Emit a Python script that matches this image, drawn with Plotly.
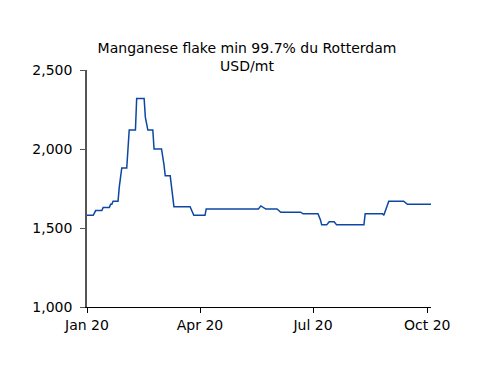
import plotly.graph_objects as go

dates = [
    "2020-01-01", "2020-01-06", "2020-01-08", "2020-01-13", "2020-01-14", "2020-01-19",
    "2020-01-20", "2020-01-21", "2020-01-22", "2020-01-26", "2020-01-27", "2020-01-29",
    "2020-02-02", "2020-02-03", "2020-02-04", "2020-02-09", "2020-02-10", "2020-02-16",
    "2020-02-17", "2020-02-19", "2020-02-23", "2020-02-24", "2020-03-01", "2020-03-03",
    "2020-03-04", "2020-03-08", "2020-03-10", "2020-03-11", "2020-03-24", "2020-03-27",
    "2020-04-05", "2020-04-06", "2020-05-18", "2020-05-20", "2020-05-24", "2020-06-02",
    "2020-06-05", "2020-06-21", "2020-06-23", "2020-07-05", "2020-07-07", "2020-07-08",
    "2020-07-12", "2020-07-14", "2020-07-18", "2020-07-20", "2020-08-11", "2020-08-12",
    "2020-08-26", "2020-08-27", "2020-08-31", "2020-09-12", "2020-09-15", "2020-10-04",
]
prices = [
    1580, 1580, 1610, 1610, 1630, 1630,
    1650, 1650, 1670, 1670, 1760, 1880,
    1880, 2050, 2120, 2120, 2320, 2320,
    2200, 2120, 2120, 2000, 2000, 1900,
    1830, 1830, 1720, 1635, 1635, 1580,
    1580, 1620, 1620, 1640, 1620, 1620,
    1600, 1600, 1590, 1590, 1550, 1520,
    1520, 1540, 1540, 1520, 1520, 1590,
    1590, 1580, 1670, 1670, 1650, 1650,
]

tick_dates = ["2020-01-01", "2020-04-01", "2020-07-01", "2020-10-01"]
tick_labels = ["Jan 20", "Apr 20", "Jul 20", "Oct 20"]
y_ticks = [1000, 1500, 2000, 2500]

font = "DejaVu Sans"

fig = go.Figure()
fig.add_trace(go.Scatter(
    x=dates, y=prices, mode="lines",
    line=dict(color="#0c47a6", width=1.5),
    showlegend=False,
))

fig.update_layout(
    width=500, height=386,
    margin=dict(l=87, r=69, t=70, b=79),
    paper_bgcolor="white", plot_bgcolor="white",
    font=dict(family=font, size=14, color="black"),
    title=dict(
        text="Manganese flake min 99.7% du Rotterdam<br>USD/mt",
        x=247 / 500, xanchor="center", xref="container",
        y=(386 - 53) / 386, yanchor="middle", yref="container",
        font=dict(family=font, size=14, color="black"),
    ),
    xaxis=dict(
        range=[dates[0], dates[-1]],
        tickvals=tick_dates, ticktext=tick_labels,
        showgrid=False, zeroline=False,
        showline=True, linecolor="black", linewidth=1,
        ticks="outside", ticklen=5, tickcolor="black",
        tickfont=dict(family=font, size=14, color="black"),
    ),
    yaxis=dict(
        range=[1000, 2500],
        tickvals=y_ticks, tickformat=",",
        showgrid=False, zeroline=False,
        showline=True, linecolor="#555555", linewidth=1.5,
        ticks="outside", ticklen=5, tickcolor="#555555",
        ticklabelstandoff=5,
        tickfont=dict(family=font, size=14, color="black"),
    ),
)

fig.write_html("out.html")
